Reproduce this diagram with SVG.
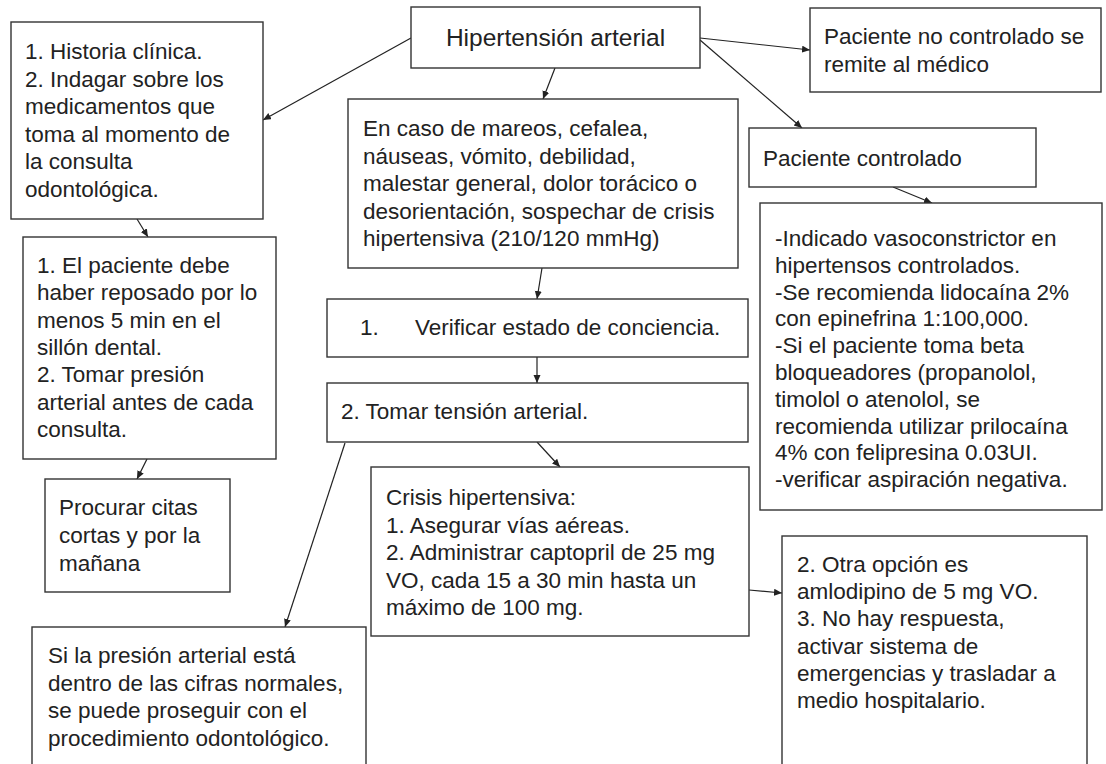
<svg xmlns="http://www.w3.org/2000/svg" width="1106" height="764" viewBox="0 0 1106 764">
<style>
.box{fill:#fff;stroke:#333;stroke-width:1.4}
.t{font-family:"Liberation Sans",Arial,sans-serif;font-size:22.5px;fill:#222}
.title{font-size:24.5px}
.c{fill:none;stroke:#222;stroke-width:1.2;marker-end:url(#ah)}
</style>
<defs>
<marker id="ah" markerUnits="userSpaceOnUse" markerWidth="9" markerHeight="8" refX="8" refY="3.5" orient="auto">
<path d="M0,0 L8,3.5 L0,7 z" fill="#222"/>
</marker>
</defs>
<rect width="1106" height="764" fill="#fff"/>
<g id="connectors">
<line class="c" x1="411" y1="38" x2="263" y2="120"/>
<line class="c" x1="555" y1="68" x2="543" y2="99"/>
<line class="c" x1="700" y1="38" x2="810" y2="50"/>
<line class="c" x1="700" y1="40" x2="802" y2="128"/>
<line class="c" x1="137" y1="219" x2="148" y2="237"/>
<line class="c" x1="147" y1="459" x2="137" y2="479"/>
<line class="c" x1="542" y1="268" x2="537" y2="299"/>
<line class="c" x1="537" y1="357" x2="537" y2="383"/>
<line class="c" x1="537" y1="442" x2="560" y2="467"/>
<line class="c" x1="345" y1="443" x2="285" y2="627"/>
<line class="c" x1="893" y1="187" x2="932" y2="203"/>
<line class="c" x1="749" y1="590" x2="782" y2="593"/>
</g>
<g id="hipertension">
<rect class="box" x="411" y="7" width="289" height="61"/>
<text class="t title" x="555.5" y="46" text-anchor="middle">Hipertensión arterial</text>
</g>
<g id="historia">
<rect class="box" x="11" y="22" width="252" height="197"/>
<text class="t"><tspan x="25" y="59">1. Historia clínica.</tspan><tspan x="25" y="86.6">2. Indagar sobre los</tspan><tspan x="25" y="114.2">medicamentos que</tspan><tspan x="25" y="141.8">toma al momento de</tspan><tspan x="25" y="169.4">la consulta</tspan><tspan x="25" y="197">odontológica.</tspan></text>
</g>
<g id="reposo">
<rect class="box" x="23" y="237" width="253" height="222"/>
<text class="t"><tspan x="37" y="273">1. El paciente debe</tspan><tspan x="37" y="300.3">haber reposado por lo</tspan><tspan x="37" y="327.6">menos 5 min en el</tspan><tspan x="37" y="355">sillón dental.</tspan><tspan x="37" y="382.3">2. Tomar presión</tspan><tspan x="37" y="409.6">arterial antes de cada</tspan><tspan x="37" y="437">consulta.</tspan></text>
</g>
<g id="citas">
<rect class="box" x="45" y="479" width="185" height="113"/>
<text class="t"><tspan x="59" y="515">Procurar citas</tspan><tspan x="59" y="543">cortas y por la</tspan><tspan x="59" y="571">mañana</tspan></text>
</g>
<g id="sintomas">
<rect class="box" x="348" y="99" width="390" height="169"/>
<text class="t"><tspan x="363" y="136">En caso de mareos, cefalea,</tspan><tspan x="363" y="163.5">náuseas, vómito, debilidad,</tspan><tspan x="363" y="191">malestar general, dolor torácico o</tspan><tspan x="363" y="218.5">desorientación, sospechar de crisis</tspan><tspan x="363" y="246">hipertensiva (210/120 mmHg)</tspan></text>
</g>
<g id="nocontrolado">
<rect class="box" x="810" y="8" width="291" height="84"/>
<text class="t"><tspan x="824" y="44">Paciente no controlado se</tspan><tspan x="824" y="71.5">remite al médico</tspan></text>
</g>
<g id="controlado">
<rect class="box" x="749" y="128" width="287" height="59"/>
<text class="t" x="763" y="166">Paciente controlado</text>
</g>
<g id="vasoconstrictor">
<rect class="box" x="760" y="203" width="342" height="307"/>
<text class="t"><tspan x="775" y="246">-Indicado vasoconstrictor en</tspan><tspan x="775" y="272.8">hipertensos controlados.</tspan><tspan x="775" y="299.6">-Se recomienda lidocaína 2%</tspan><tspan x="775" y="326.4">con epinefrina 1:100,000.</tspan><tspan x="775" y="353.2">-Si el paciente toma beta</tspan><tspan x="775" y="380">bloqueadores (propanolol,</tspan><tspan x="775" y="406.8">timolol o atenolol, se</tspan><tspan x="775" y="433.6">recomienda utilizar prilocaína</tspan><tspan x="775" y="460.4">4% con felipresina 0.03UI.</tspan><tspan x="775" y="487.2">-verificar aspiración negativa.</tspan></text>
</g>
<g id="verificar">
<rect class="box" x="327" y="299" width="421" height="58"/>
<text class="t"><tspan x="360" y="335">1.</tspan><tspan x="415" y="335">Verificar estado de conciencia.</tspan></text>
</g>
<g id="tension">
<rect class="box" x="327" y="383" width="421" height="59"/>
<text class="t" x="341" y="419">2. Tomar tensión arterial.</text>
</g>
<g id="crisis">
<rect class="box" x="371" y="467" width="378" height="169"/>
<text class="t"><tspan x="386" y="505">Crisis hipertensiva:</tspan><tspan x="386" y="532.5">1. Asegurar vías aéreas.</tspan><tspan x="386" y="560">2. Administrar captopril de 25 mg</tspan><tspan x="386" y="587.5">VO, cada 15 a 30 min hasta un</tspan><tspan x="386" y="615">máximo de 100 mg.</tspan></text>
</g>
<g id="normal">
<rect class="box" x="32" y="627" width="334" height="160"/>
<text class="t"><tspan x="48" y="663">Si la presión arterial está</tspan><tspan x="48" y="690.5">dentro de las cifras normales,</tspan><tspan x="48" y="718">se puede proseguir con el</tspan><tspan x="48" y="745.5">procedimiento odontológico.</tspan></text>
</g>
<g id="amlodipino">
<rect class="box" x="782" y="536" width="305" height="250"/>
<text class="t"><tspan x="797" y="572">2. Otra opción es</tspan><tspan x="797" y="599.2">amlodipino de 5 mg VO.</tspan><tspan x="797" y="626.4">3. No hay respuesta,</tspan><tspan x="797" y="653.6">activar sistema de</tspan><tspan x="797" y="680.8">emergencias y trasladar a</tspan><tspan x="797" y="708">medio hospitalario.</tspan></text>
</g>
</svg>
